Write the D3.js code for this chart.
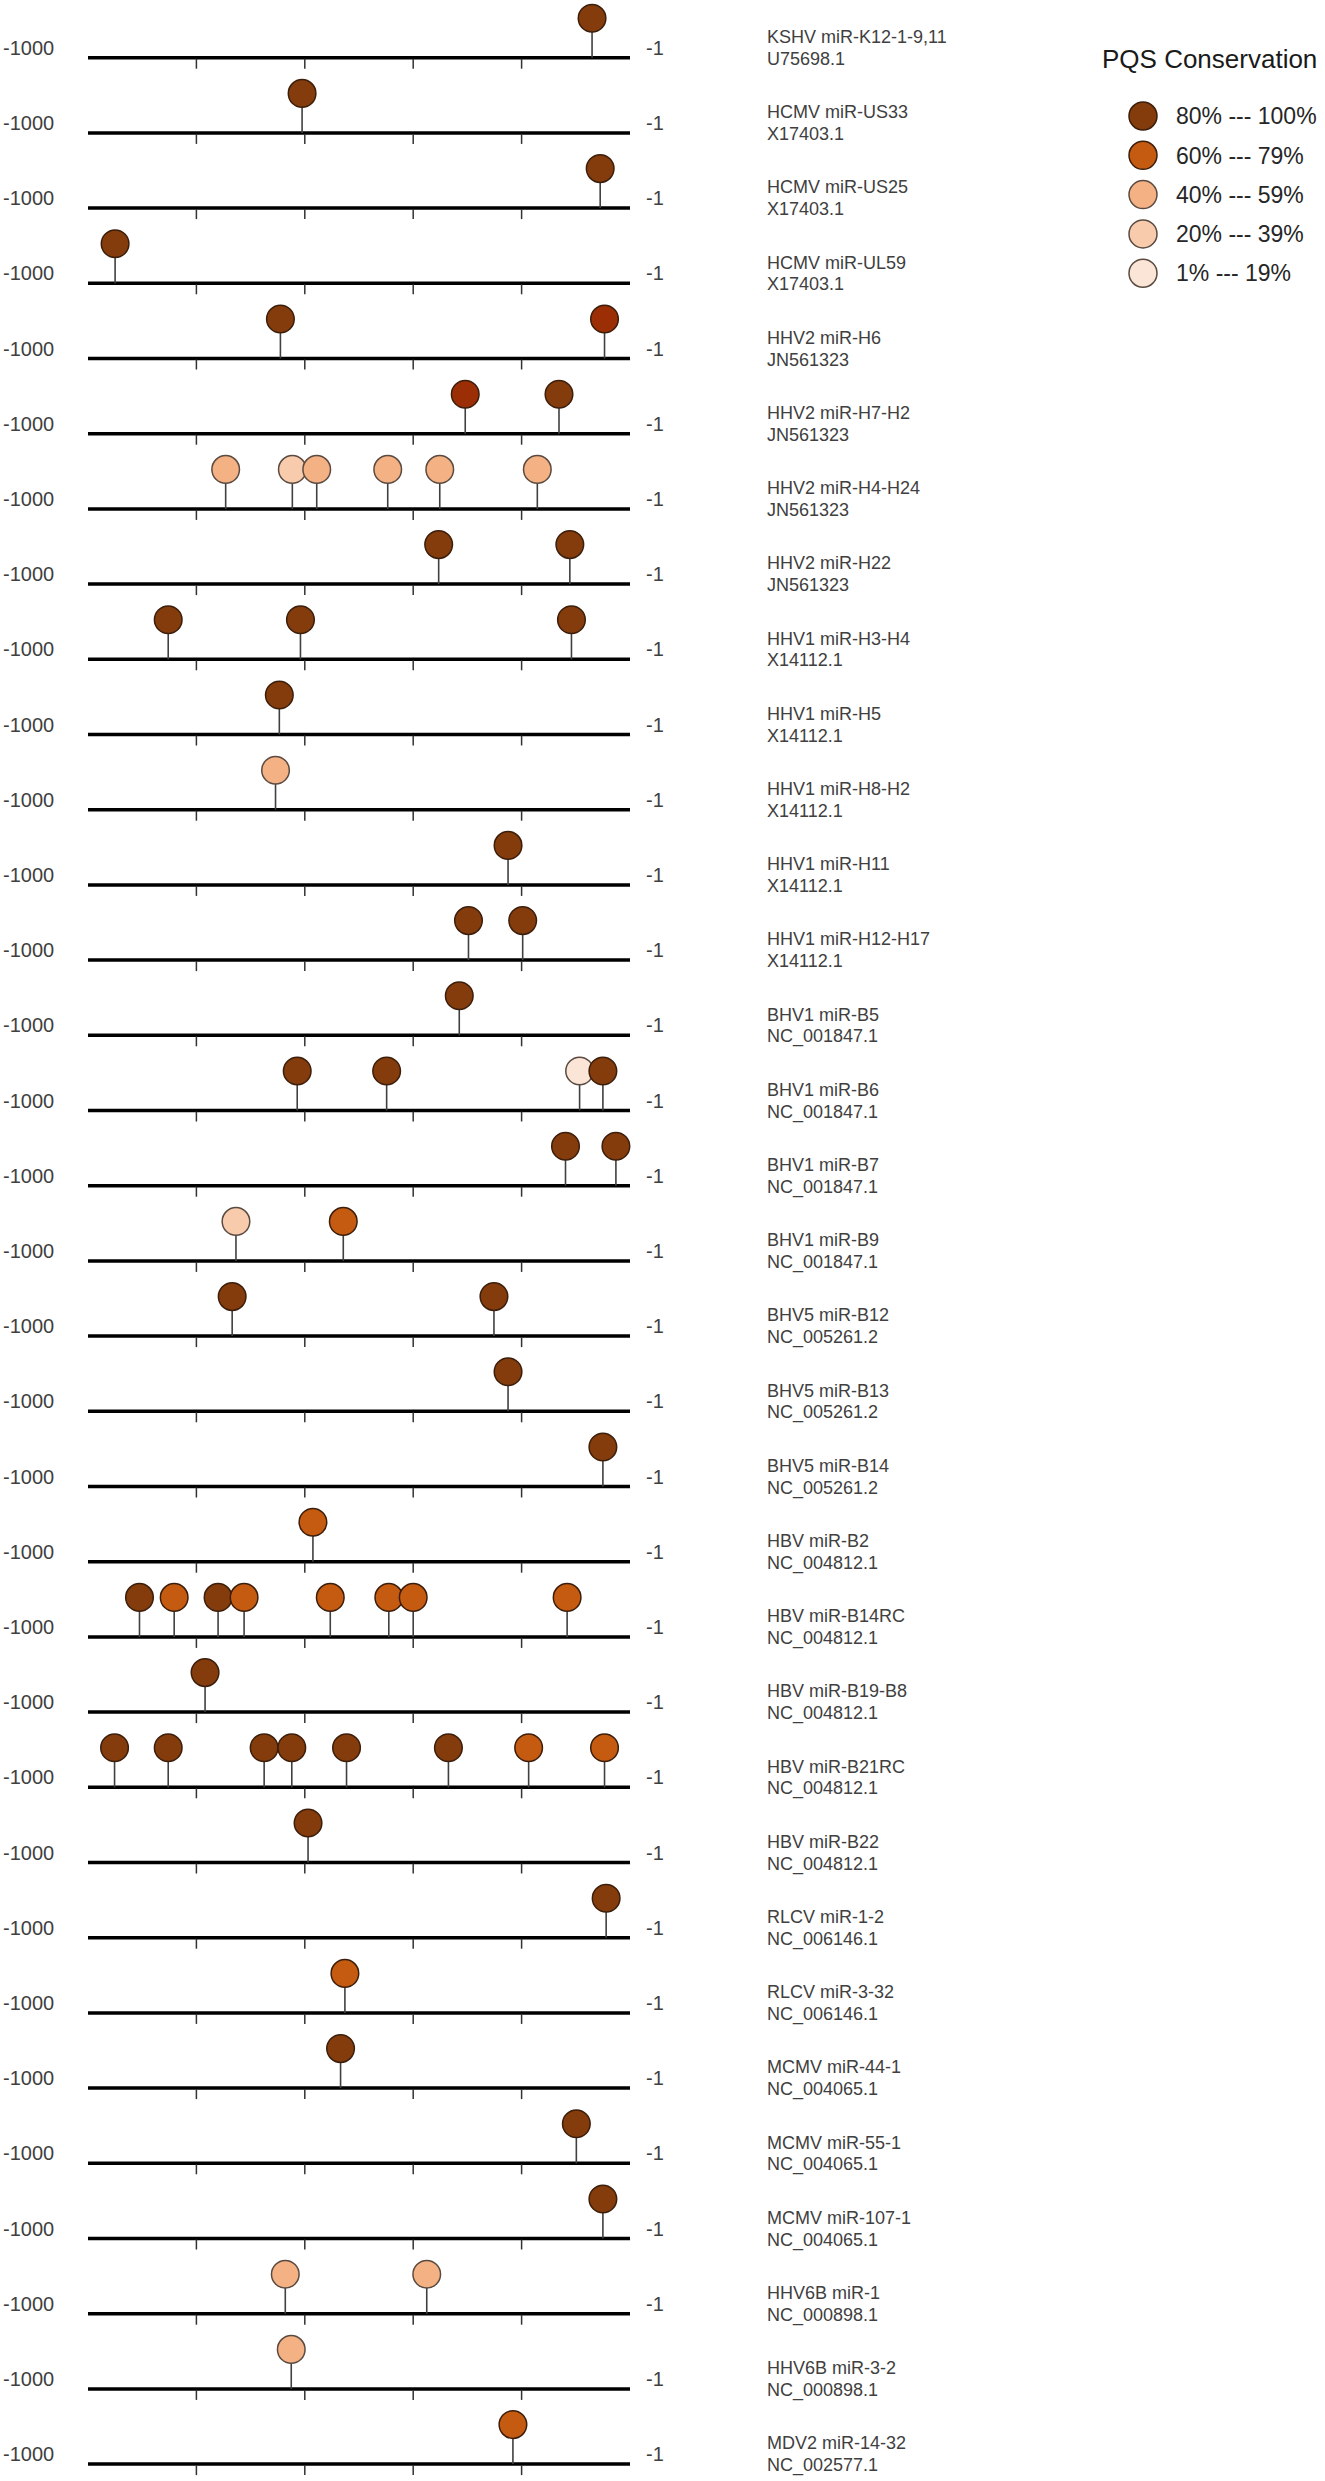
<!DOCTYPE html>
<html>
<head>
<meta charset="utf-8">
<script src="https://d3js.org/d3.v7.min.js"></script>
<style>
  body { margin: 0; background: #fff; }
  text { font-family: "Liberation Sans", Arial, sans-serif; }
</style>
</head>
<body>
<div id="chart"></div>
<script>
// one row per miRNA track
var rowNames = [
  "KSHV miR-K12-1-9,11", "HCMV miR-US33", "HCMV miR-US25", "HCMV miR-UL59",
  "HHV2 miR-H6", "HHV2 miR-H7-H2", "HHV2 miR-H4-H24", "HHV2 miR-H22",
  "HHV1 miR-H3-H4", "HHV1 miR-H5", "HHV1 miR-H8-H2", "HHV1 miR-H11",
  "HHV1 miR-H12-H17", "BHV1 miR-B5", "BHV1 miR-B6", "BHV1 miR-B7",
  "BHV1 miR-B9", "BHV5 miR-B12", "BHV5 miR-B13", "BHV5 miR-B14",
  "HBV miR-B2", "HBV miR-B14RC", "HBV miR-B19-B8", "HBV miR-B21RC",
  "HBV miR-B22", "RLCV miR-1-2", "RLCV miR-3-32", "MCMV miR-44-1",
  "MCMV miR-55-1", "MCMV miR-107-1", "HHV6B miR-1", "HHV6B miR-3-2",
  "MDV2 miR-14-32"
];
var rowAccessions = [
  "U75698.1", "X17403.1", "X17403.1", "X17403.1",
  "JN561323", "JN561323", "JN561323", "JN561323",
  "X14112.1", "X14112.1", "X14112.1", "X14112.1",
  "X14112.1", "NC_001847.1", "NC_001847.1", "NC_001847.1",
  "NC_001847.1", "NC_005261.2", "NC_005261.2", "NC_005261.2",
  "NC_004812.1", "NC_004812.1", "NC_004812.1", "NC_004812.1",
  "NC_004812.1", "NC_006146.1", "NC_006146.1", "NC_004065.1",
  "NC_004065.1", "NC_004065.1", "NC_000898.1", "NC_000898.1",
  "NC_002577.1"
];
// PQS positions (upstream, -1000 .. -1)
var sitePos = [
  [-70], [-605], [-55], [-950],
  [-645, -47], [-304, -131], [-746, -623, -578, -447, -351, -171], [-353, -111],
  [-852, -608, -108], [-647], [-654], [-225],
  [-298, -198], [-315], [-614, -449, -93, -50], [-119, -26],
  [-727, -529], [-734, -251], [-225], [-50],
  [-585], [-905, -841, -760, -712, -553, -445, -400, -116], [-784],
  [-951, -852, -675, -624, -523, -335, -187, -47],
  [-594], [-44], [-526], [-534],
  [-99], [-50], [-636, -375], [-625],
  [-216]
];
// conservation class of each site (index into levelColors)
var siteLevel = [
  [0], [0], [0], [0],
  [0, 5], [5, 0], [2, 3, 2, 2, 2, 2], [0, 0],
  [0, 0, 0], [0], [2], [0],
  [0, 0], [0], [0, 0, 4, 0], [0, 0],
  [3, 1], [0, 0], [0], [0],
  [1], [0, 1, 0, 1, 1, 1, 1, 1], [0],
  [0, 0, 0, 0, 0, 0, 1, 1],
  [0], [0], [1], [0],
  [0], [0], [2, 2], [2],
  [1]
];
var levelColors = ["#843c0c", "#c55a11", "#f4b183", "#f8cbad", "#fbe5d6", "#9c2e06"];
var legendLabels = ["80% --- 100%", "60% --- 79%", "40% --- 59%", "20% --- 39%", "1% --- 19%"];
var legendTitle = "PQS Conservation";
var tickValues = [-800, -600, -400, -200];
var endLabels = ["-1000", "-1"];

var width = 1325;
var height = 2481;
var firstLine = 57.7;
var rowStep = 75.2;
var radius = 13.8;
var stemHeight = 39.5;

var svg = d3.select("#chart").append("svg")
  .attr("width", width)
  .attr("height", height);

svg.append("rect")
  .attr("width", width)
  .attr("height", height)
  .attr("fill", "#fff");

var x = d3.scaleLinear().domain([-1000, 0]).range([88, 630]);
var y = d3.scaleLinear().domain([0, 1]).range([firstLine, firstLine + rowStep]);

var rows = svg.selectAll("g.row")
  .data(rowNames)
  .enter()
  .append("g")
  .attr("class", "row")
  .attr("transform", function (d, i) { return "translate(0," + y(i) + ")"; });

// track line
rows.append("line")
  .attr("x1", x.range()[0])
  .attr("x2", x.range()[1])
  .attr("stroke", "#000")
  .attr("stroke-width", 3.5);

// ticks below the line
rows.selectAll("line.tick")
  .data(tickValues)
  .enter()
  .append("line")
  .attr("class", "tick")
  .attr("x1", function (d) { return x(d); })
  .attr("x2", function (d) { return x(d); })
  .attr("y1", 1)
  .attr("y2", 11)
  .attr("stroke", "#333")
  .attr("stroke-width", 1.5);

rows.append("text")
  .attr("x", 3)
  .attr("y", -3)
  .attr("font-size", 20)
  .attr("fill", "#404040")
  .text(endLabels[0]);

rows.append("text")
  .attr("x", 646)
  .attr("y", -3)
  .attr("font-size", 20)
  .attr("fill", "#404040")
  .text(endLabels[1]);

rows.append("text")
  .attr("x", 767)
  .attr("y", -14.7)
  .attr("font-size", 18)
  .attr("fill", "#404040")
  .text(function (d) { return d; });

rows.append("text")
  .attr("x", 767)
  .attr("y", 7)
  .attr("font-size", 18)
  .attr("fill", "#404040")
  .text(function (d, i) { return rowAccessions[i]; });

// lollipops
var sites = rows.selectAll("g.site")
  .data(function (d, i) {
    return sitePos[i].map(function (p, j) { return { pos: p, level: siteLevel[i][j] }; });
  })
  .enter()
  .append("g")
  .attr("class", "site");

sites.append("line")
  .attr("x1", function (d) { return x(d.pos); })
  .attr("x2", function (d) { return x(d.pos); })
  .attr("y1", 0)
  .attr("y2", -stemHeight + radius)
  .attr("stroke", "#404040")
  .attr("stroke-width", 1.6);

sites.append("circle")
  .attr("cx", function (d) { return x(d.pos); })
  .attr("cy", -stemHeight)
  .attr("r", radius)
  .attr("fill", function (d) { return levelColors[d.level]; })
  .attr("stroke", function (d) { return d.level < 2 || d.level == 5 ? "#3b1e0c" : "#5a4a40"; })
  .attr("stroke-width", 1.5);

// legend
var legend = svg.append("g");

legend.append("text")
  .attr("x", 1102)
  .attr("y", 68)
  .attr("font-size", 26)
  .attr("fill", "#1a1a1a")
  .text(legendTitle);

var items = legend.selectAll("g.item")
  .data(legendLabels)
  .enter()
  .append("g")
  .attr("class", "item")
  .attr("transform", function (d, i) { return "translate(1143," + (116 + 39.3 * i) + ")"; });

items.append("circle")
  .attr("r", 14)
  .attr("fill", function (d, i) { return levelColors[i]; })
  .attr("stroke", function (d, i) { return i < 2 ? "#3b1e0c" : "#5a4a40"; })
  .attr("stroke-width", 1.5);

items.append("text")
  .attr("x", 33)
  .attr("dy", "0.36em")
  .attr("font-size", 23)
  .attr("fill", "#262626")
  .text(function (d) { return d; });
</script>
</body>
</html>
